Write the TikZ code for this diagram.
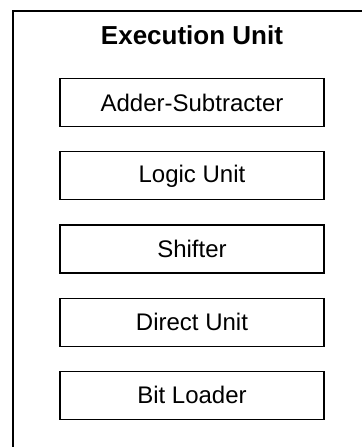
\documentclass[tikz,border=0pt]{standalone}
\usepackage{fontspec}
\setmainfont{Liberation Sans}
\usetikzlibrary{matrix,positioning}

\tikzset{
  unitbox/.style={draw, line width=0.6pt, minimum width=132pt, minimum height=24pt,
    inner sep=0pt, font=\fontsize{12}{14}\selectfont},
  frameline/.style={draw, line width=1pt}
}

\begin{document}
\begin{tikzpicture}
  \useasboundingbox (0,0) rectangle (181pt,-223.5pt);
  \clip (0,0) rectangle (181pt,-223.5pt);
  % outer frame, runs off the right and bottom edges
  \draw[frameline] (6.5pt,-5.5pt) rectangle (220pt,-260pt);
  \matrix (m) [matrix of nodes, row sep=12pt, nodes={unitbox}] at (96pt,-124.5pt)
  {
Adder-Subtracter \\
Logic Unit \\
Shifter \\
Direct Unit \\
Bit Loader \\
};
  \node[font=\bfseries\fontsize{13}{15}\selectfont] (title) at (96pt,-17.5pt) {Execution Unit};
\end{tikzpicture}
\end{document}
